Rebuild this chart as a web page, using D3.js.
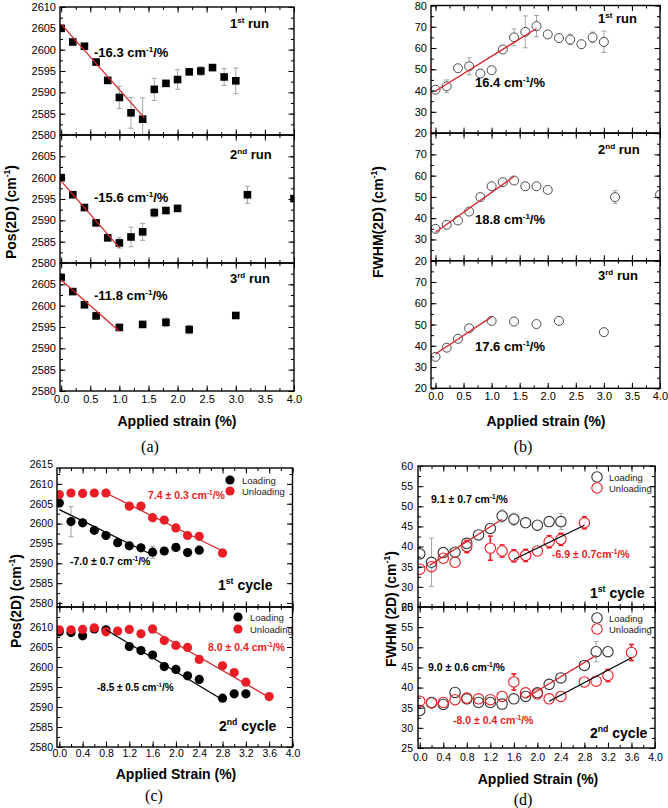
<!DOCTYPE html>
<html>
<head>
<meta charset="utf-8">
<script src="https://cdn.jsdelivr.net/npm/d3@7"></script>
<style>
  body { margin: 0; background: #fff; }
  svg { display: block; }
</style>
</head>
<body>
<svg id="fig" width="668" height="808"></svg>
<script>
// ---------- (a) Pos(2D) vs applied strain, three runs
const aStrainRun1 = [0.0,0.2,0.4,0.6,0.8,1.0,1.2,1.4,1.6,1.8,2.0,2.2,2.4,2.6,2.8,3.0];
const aPosRun1 = [2605.0,2601.8,2600.8,2597.1,2592.8,2588.8,2585.2,2583.7,2590.7,2592.1,2593.0,2594.8,2595.0,2595.8,2593.6,2592.7];
const aErrRun1 = [0.3,0.5,0.3,0.3,0.4,2.6,3.6,5.0,2.6,0.5,2.3,0.5,1.0,0.4,2.0,3.0];
const aStrainRun2 = [0.0,0.2,0.4,0.6,0.8,1.0,1.2,1.4,1.6,1.8,2.0,3.2,4.0];
const aPosRun2 = [2600.0,2596.0,2593.0,2589.4,2585.9,2584.7,2586.1,2587.3,2591.8,2592.3,2592.8,2596.0,2595.1];
const aErrRun2 = [0.3,0.3,0.3,0.3,0.3,1.2,2.3,2.0,1.0,0.5,0.4,2.0,0.5];
const aStrainRun3 = [0.0,0.2,0.4,0.6,1.0,1.4,1.8,2.2,3.0];
const aPosRun3 = [2606.6,2603.3,2600.2,2597.6,2594.9,2595.6,2596.1,2594.4,2597.7];
const aErrRun3 = [0.3,0.3,0.6,0.3,0.3,0.7,1.0,1.0,0.3];
const aFitStrain = [[0, 1.43], [0, 1.0], [0, 1.0]];
const aFitPos = [[2606.0, 2584.0], [2599.2, 2583.6], [2606.0, 2594.0]];
const aSlopes = ["-16.3", "-15.6", "-11.8"];
const aYTicksTop = [2580,2585,2590,2595,2600,2605,2610];
const aYTicks = [2580,2585,2590,2595,2600,2605];

// ---------- (b) FWHM(2D) vs applied strain, three runs
const bStrainRun1 = [0.0,0.2,0.4,0.6,0.8,1.0,1.2,1.4,1.6,1.8,2.0,2.2,2.4,2.6,2.8,3.0];
const bFwhmRun1 = [40.4,42.0,50.5,51.4,48.0,49.6,59.3,65.0,67.6,70.3,66.4,64.7,64.0,61.8,65.0,62.9];
const bErrRun1 = [0.8,3.0,1.0,4.0,1.0,1.0,1.5,4.0,7.5,5.0,2.0,1.0,2.5,1.0,2.5,5.0];
const bStrainRun2 = [0.0,0.2,0.4,0.6,0.8,1.0,1.2,1.4,1.6,1.8,2.0,3.2,4.0];
const bFwhmRun2 = [35.0,36.9,38.9,43.1,49.9,55.0,56.9,57.7,55.0,55.0,53.3,49.9,51.0];
const bErrRun2 = [0.8,0.8,0.8,0.8,0.8,0.8,0.8,0.8,0.8,0.8,0.8,3.0,0.8];
const bStrainRun3 = [0.0,0.2,0.4,0.6,1.0,1.4,1.8,2.2,3.0];
const bFwhmRun3 = [34.8,39.1,43.3,48.2,51.7,51.4,50.2,51.7,46.4];
const bErrRun3 = [0.8,0.8,0.8,0.8,0.8,0.8,0.8,1.0,0.8];
const bFitStrain = [[0, 1.8], [0, 1.4], [0, 1.0]];
const bFitFwhm = [[39.8, 69.2], [33.4, 59.6], [36.1, 53.6]];
const bSlopes = ["16.4", "18.8", "17.6"];
const bYTicksTop = [20,30,40,50,60,70,80];
const bYTicks = [20,30,40,50,60,70];

// ---------- (c) Pos(2D), loading / unloading cycles
const cStrainLoad1 = [0.0,0.2,0.4,0.6,0.8,1.0,1.2,1.4,1.6,1.8,2.0,2.2,2.4];
const cPosLoad1 = [2605.2,2600.5,2600.2,2598.3,2597.0,2595.2,2594.4,2593.9,2592.8,2593.1,2594.0,2592.7,2593.3];
const cErrLoad1 = [0.4,3.8,0.4,0.4,0.4,0.4,0.4,0.4,1.5,0.4,0.4,0.4,0.4];
const cStrainUnload1 = [0.0,0.2,0.4,0.6,0.8,1.2,1.4,1.6,1.8,2.0,2.2,2.4,2.8];
const cPosUnload1 = [2607.3,2607.7,2607.6,2607.7,2607.7,2604.4,2604.4,2601.5,2600.9,2598.9,2597.0,2596.8,2592.6];
const cErrUnload1 = [0.4,0.4,0.4,0.4,0.4,0.4,0.4,0.8,0.6,0.4,0.4,0.4,1.0];
const cStrainLoad2 = [0.0,0.2,0.4,0.6,0.8,1.2,1.4,1.6,1.8,2.0,2.2,2.4,2.8,3.0,3.2];
const cPosLoad2 = [2608.8,2608.6,2607.8,2609.5,2609.3,2605.1,2604.1,2603.0,2600.1,2599.4,2597.8,2596.9,2592.2,2593.3,2593.3];
const cErrLoad2 = [0.4,0.4,0.4,0.4,0.4,0.4,0.4,0.4,0.4,0.4,0.4,0.4,0.4,0.4,0.4];
const cStrainUnload2 = [0.0,0.2,0.4,0.6,0.8,1.0,1.2,1.4,1.6,1.8,2.0,2.2,2.4,2.8,3.0,3.2,3.6];
const cPosUnload2 = [2609.3,2609.3,2609.4,2609.8,2608.8,2609.0,2609.4,2608.3,2609.5,2606.6,2605.4,2604.9,2601.9,2600.3,2598.6,2596.2,2592.6];
const cErrUnload2 = [0.4,0.4,0.4,0.4,0.4,0.4,0.4,0.4,1.0,0.4,0.4,0.4,0.4,0.4,0.4,0.4,0.6];
const cFitLoadStrain = [[0, 1.6], [0.8, 2.8]];
const cFitLoadPos = [[2603.5, 2592.1], [2609.3, 2591.8]];
const cFitUnloadStrain = [[0.8, 2.8], [1.6, 3.6]];
const cFitUnloadPos = [[2607.7, 2593.1], [2609.2, 2592.4]];
const cYTicksTop = [2580,2585,2590,2595,2600,2605,2610,2615];
const cYTicks = [2580,2585,2590,2595,2600,2605,2610];

// ---------- (d) FWHM(2D), loading / unloading cycles
const dStrainLoad1 = [0.0,0.2,0.4,0.6,0.8,1.0,1.2,1.4,1.6,1.8,2.0,2.2,2.4];
const dFwhmLoad1 = [38.2,36.1,38.5,38.6,40.8,42.9,44.5,47.6,46.8,45.9,45.3,46.2,46.2];
const dErrLoad1 = [1.0,6.0,1.0,1.0,1.0,1.0,1.0,1.5,1.5,1.0,1.0,1.0,2.0];
const dStrainUnload1 = [0.0,0.2,0.4,0.6,0.8,1.2,1.4,1.6,1.8,2.0,2.2,2.4,2.8];
const dFwhmUnload1 = [34.4,35.0,37.1,36.1,40.0,39.6,38.9,37.7,37.8,38.9,41.2,41.8,45.9];
const dErrUnload1 = [0.5,1.0,1.0,1.0,1.5,3.0,1.5,1.5,1.5,0.8,1.5,1.5,1.5];
const dStrainLoad2 = [0.0,0.2,0.4,0.6,0.8,1.0,1.2,1.4,1.6,1.8,2.0,2.2,2.4,2.8,3.0,3.2];
const dFwhmLoad2 = [34.3,36.3,35.8,38.8,37.2,36.3,36.3,35.9,37.2,37.8,38.7,40.8,42.4,45.5,48.9,48.9];
const dErrLoad2 = [0.5,0.5,0.5,0.5,0.5,0.5,0.5,0.5,0.5,0.5,0.5,0.5,0.5,0.5,2.5,1.0];
const dStrainUnload2 = [0.0,0.2,0.4,0.6,0.8,1.0,1.2,1.4,1.6,1.8,2.0,2.2,2.4,2.8,3.0,3.2,3.6];
const dFwhmUnload2 = [36.6,36.2,36.3,37.0,37.4,37.2,37.0,37.8,41.4,38.7,38.4,37.2,37.8,41.4,41.6,43.0,48.7];
const dErrUnload2 = [0.5,0.5,0.5,1.0,0.5,0.5,0.5,0.5,2.0,0.5,0.5,0.5,0.5,0.5,1.0,1.5,2.0];
const dFitRedStrain = [[0.17, 1.4], [1.8, 3.0]];
const dFitRedFwhm = [[35.4, 46.8], [37.4, 48.0]];
const dFitBlackStrain = [[1.6, 2.8], [2.2, 3.6]];
const dFitBlackFwhm = [[36.8, 45.3], [36.6, 47.4]];
const dYTicks = [25,30,35,40,45,50,55,60];

const xTicksHalf = [0.0,0.5,1.0,1.5,2.0,2.5,3.0,3.5,4.0];
const xTicksFifth = [0.0,0.4,0.8,1.2,1.6,2.0,2.4,2.8,3.2,3.6,4.0];

const FONT = "'Liberation Sans', Arial, sans-serif";
const SERIF = "'Liberation Serif', 'Times New Roman', serif";
const RED = "#ec1c24";
const FITRED = "#d8262b";
const GREY = "#9b9b9b";

const svg = d3.select("#fig");

// text with ^{...} superscripts
function rich(sel, str, fs) {
  const parts = str.split(/(\^\{[^}]*\})/).filter(s => s.length);
  let up = false;
  parts.forEach(p => {
    const m = p.match(/^\^\{(.*)\}$/);
    if (m) {
      sel.append("tspan").attr("font-size", fs * 0.62).attr("dy", -fs * 0.42).text(m[1]);
      up = true;
    } else {
      sel.append("tspan").attr("dy", up ? fs * 0.42 : null).text(p);
      up = false;
    }
  });
}

function label(g, x, y, str, o) {
  const t = g.append("text").attr("x", x).attr("y", y)
    .attr("font-size", o.fs)
    .attr("font-weight", o.bold ? "bold" : "normal")
    .attr("fill", o.color || "#000")
    .attr("font-family", o.font || FONT)
    .attr("text-anchor", o.anchor || "start");
  if (o.rotate) t.attr("transform", `rotate(-90,${x},${y})`);
  rich(t, str, o.fs);
  return t;
}

function stepValues(dom, step) {
  const lo = Math.ceil(dom[0] / step - 1e-6), hi = Math.floor(dom[1] / step + 1e-6);
  return d3.range(lo, hi + 1).map(k => +(k * step).toFixed(6));
}

function marks(g, axis, vals, len, tr) {
  g.append("g").attr("transform", tr)
    .call(axis.tickValues(vals).tickSize(-len).tickFormat(""))
    .call(a => a.select(".domain").remove())
    .selectAll("line").attr("stroke-width", 1);
}

const markerR = { square: 3.8, dot: 4.6, ring: 4.5, ringL: 5.2 };

function drawMarker(g, kind, cx, cy, color) {
  if (kind === "square") {
    g.append("rect").attr("x", cx - 3.8).attr("y", cy - 3.8).attr("width", 7.6).attr("height", 7.6).attr("fill", "#000");
  } else if (kind === "dot") {
    g.append("circle").attr("cx", cx).attr("cy", cy).attr("r", markerR.dot).attr("fill", color);
  } else {
    g.append("circle").attr("cx", cx).attr("cy", cy).attr("r", markerR[kind]).attr("fill", "none")
      .attr("stroke", color).attr("stroke-width", kind === "ring" ? 1 : 1.1);
  }
}

function drawPanel(p) {
  const x = d3.scaleLinear().domain(p.xDomain).range([p.left, p.right]);
  const xMaj = stepValues(p.xDomain, p.xStep), xMin = stepValues(p.xDomain, p.xStep / 2);
  p.subs.forEach((s, i) => {
    const y = d3.scaleLinear().domain(s.yDomain).range([s.bottom, s.top]);
    const g = svg.append("g");
    const cid = `clip-${p.id}-${i}`;
    svg.append("clipPath").attr("id", cid).append("rect")
      .attr("x", p.left).attr("y", s.top).attr("width", p.right - p.left).attr("height", s.bottom - s.top);

    const yMaj = stepValues(s.yDomain, p.yStep), yMin = stepValues(s.yDomain, p.yStep / 2);
    marks(g, d3.axisLeft(y), yMin, 3, `translate(${p.left},0)`);
    marks(g, d3.axisLeft(y), yMaj, 5.5, `translate(${p.left},0)`);
    marks(g, d3.axisRight(y), yMin, 3, `translate(${p.right},0)`);
    marks(g, d3.axisRight(y), yMaj, 5.5, `translate(${p.right},0)`);
    marks(g, d3.axisBottom(x), xMin, 3, `translate(0,${s.bottom})`);
    marks(g, d3.axisBottom(x), xMaj, 5.5, `translate(0,${s.bottom})`);
    marks(g, d3.axisTop(x), xMin, 3, `translate(0,${s.top})`);
    marks(g, d3.axisTop(x), xMaj, 5.5, `translate(0,${s.top})`);

    g.append("g").attr("transform", `translate(${p.left},0)`)
      .call(d3.axisLeft(y).tickValues(s.yLabels).tickSize(0).tickPadding(p.yPad).tickFormat(d3.format("d")))
      .call(a => a.select(".domain").remove())
      .attr("font-size", p.tickFs).attr("font-family", FONT)
      .selectAll("text").attr("fill", "#000");

    const plot = g.append("g").attr("clip-path", `url(#${cid})`);
    s.series.forEach(ser => {
      // open markers: the bar starts at the ring edge, nothing is drawn inside the ring
      const gap = (ser.marker === "ring" || ser.marker === "ringL") ? markerR[ser.marker] : 0;
      ser.x.forEach((xv, k) => {
        const e = ser.err ? ser.err[k] : 0;
        if (e > 0) {
          const cy = y(ser.y[k]), cx = x(xv);
          const ec = ser.errColor || GREY, ew = ser.errWidth || 0.9;
          [y(ser.y[k] - e), y(ser.y[k] + e)].forEach(yy => {
            if (gap && Math.abs(yy - cy) <= gap + 0.5) return;
            const from = cy + Math.sign(yy - cy) * gap;
            plot.append("line").attr("x1", cx).attr("x2", cx).attr("y1", from).attr("y2", yy)
              .attr("stroke", ec).attr("stroke-width", ew);
            plot.append("line").attr("x1", cx - 2.5).attr("x2", cx + 2.5)
              .attr("y1", yy).attr("y2", yy).attr("stroke", ec).attr("stroke-width", ew);
          });
        }
      });
      ser.x.forEach((xv, k) => drawMarker(plot, ser.marker, x(xv), y(ser.y[k]), ser.color));
    });
    s.fits.forEach(f => {
      plot.append("path")
        .attr("d", d3.line().x(d => x(d[0])).y(d => y(d[1]))(f.x.map((v, k) => [v, f.y[k]])))
        .attr("fill", "none").attr("stroke", f.color).attr("stroke-width", 1.3);
    });

    g.append("rect").attr("x", p.left).attr("y", s.top)
      .attr("width", p.right - p.left).attr("height", s.bottom - s.top)
      .attr("fill", "none").attr("stroke", "#000").attr("stroke-width", 1.4);

    (s.legend || []).forEach(l => {
      drawMarker(g, l.marker, l.x, l.y, l.color);
      label(g, l.x + 12, l.y + 3.6, l.text, { fs: 9.5, color: "#222" });
    });
    s.notes.forEach(n => label(g, n.x, n.y, n.text, n));

    if (i === p.subs.length - 1) {
      g.append("g").attr("transform", `translate(0,${s.bottom})`)
        .call(d3.axisBottom(x).tickValues(p.xLabels).tickSize(0).tickPadding(p.xPad).tickFormat(d3.format(".1f")))
        .call(a => a.select(".domain").remove())
        .attr("font-size", p.tickFs).attr("font-family", FONT)
        .selectAll("text").attr("fill", "#000");
    }
  });
  label(svg, p.xTitle.x, p.xTitle.y, p.xTitle.text, { fs: 14, bold: true, anchor: "middle" });
  label(svg, p.yTitle.x, p.yTitle.y, p.yTitle.text, { fs: 14, bold: true, anchor: "middle", rotate: true });
  label(svg, p.letter.x, p.letter.y, p.letter.text, { fs: 16, anchor: "middle", font: SERIF });
}

const ords = ["1^{st}", "2^{nd}", "3^{rd}"];
const unit = " cm^{-1}/%";

// ---------- panel (a)
const aRuns = [[aStrainRun1, aPosRun1, aErrRun1], [aStrainRun2, aPosRun2, aErrRun2], [aStrainRun3, aPosRun3, aErrRun3]];
const aRunNoteY = [[28, 57], [159, 202], [283, 300]];
drawPanel({
  id: "a", left: 60, right: 294, xDomain: [-0.02, 4], xStep: 0.5, yStep: 5,
  tickFs: 11, yPad: 4, xPad: 4, xLabels: xTicksHalf,
  subs: aRuns.map((r, i) => ({
    top: 7 + i * 128, bottom: 135 + i * 128, yDomain: [2580, 2610],
    yLabels: i === 0 ? aYTicksTop : aYTicks,
    series: [{ x: r[0], y: r[1], err: r[2], marker: "square", color: "#000" }],
    fits: [{ x: aFitStrain[i], y: aFitPos[i], color: FITRED }],
    notes: [
      { x: 230, y: aRunNoteY[i][0], text: ords[i] + " run", fs: 13, bold: true },
      { x: 94, y: aRunNoteY[i][1], text: aSlopes[i] + unit, fs: 13, bold: true }
    ]
  })),
  xTitle: { x: 177, y: 426, text: "Applied strain (%)" },
  yTitle: { x: 16, y: 212, text: "Pos(2D) (cm^{-1})" },
  letter: { x: 150, y: 452, text: "(a)" }
});

// ---------- panel (b)
const bRuns = [[bStrainRun1, bFwhmRun1, bErrRun1], [bStrainRun2, bFwhmRun2, bErrRun2], [bStrainRun3, bFwhmRun3, bErrRun3]];
const bRunNoteY = [[23, 87], [154, 224], [280, 351]];
drawPanel({
  id: "b", left: 431, right: 660, xDomain: [-0.08, 4], xStep: 0.5, yStep: 10,
  tickFs: 11, yPad: 4, xPad: 4, xLabels: xTicksHalf,
  subs: bRuns.map((r, i) => ({
    top: 5.5 + i * 127.6, bottom: 133.1 + i * 127.6, yDomain: [20, 80],
    yLabels: i === 0 ? bYTicksTop : bYTicks,
    series: [{ x: r[0], y: r[1], err: r[2], marker: "ring", color: "#4a4a4a" }],
    fits: [{ x: bFitStrain[i], y: bFitFwhm[i], color: FITRED }],
    notes: [
      { x: 598, y: bRunNoteY[i][0], text: ords[i] + " run", fs: 13, bold: true },
      { x: 475, y: bRunNoteY[i][1], text: bSlopes[i] + unit, fs: 13, bold: true }
    ]
  })),
  xTitle: { x: 546, y: 426, text: "Applied strain (%)" },
  yTitle: { x: 383, y: 222, text: "FWHM(2D) (cm^{-1})" },
  letter: { x: 523, y: 452, text: "(b)" }
});

// ---------- panel (c)
drawPanel({
  id: "c", left: 57, right: 292.5, xDomain: [-0.04, 4], xStep: 0.4, yStep: 5,
  tickFs: 10.5, yPad: 4, xPad: 3, xLabels: xTicksFifth,
  subs: [
    {
      top: 468, bottom: 607, yDomain: [2579, 2614], yLabels: cYTicksTop,
      series: [
        { x: cStrainLoad1, y: cPosLoad1, err: cErrLoad1, marker: "dot", color: "#000" },
        { x: cStrainUnload1, y: cPosUnload1, err: cErrUnload1, marker: "dot", color: RED }
      ],
      fits: [
        { x: cFitLoadStrain[0], y: cFitLoadPos[0], color: "#000" },
        { x: cFitUnloadStrain[0], y: cFitUnloadPos[0], color: FITRED }
      ],
      legend: [
        { x: 230, y: 480, marker: "dot", color: "#000", text: "Loading" },
        { x: 230, y: 491, marker: "dot", color: RED, text: "Unloading" }
      ],
      notes: [
        { x: 148, y: 499, text: "7.4 \u00b1 0.3" + unit, fs: 10.5, bold: true, color: RED },
        { x: 70, y: 565, text: "-7.0 \u00b1 0.7" + unit, fs: 10.5, bold: true },
        { x: 218, y: 590, text: "1^{st} cycle", fs: 14, bold: true }
      ]
    },
    {
      top: 607, bottom: 747, yDomain: [2580, 2615], yLabels: cYTicks,
      series: [
        { x: cStrainLoad2, y: cPosLoad2, err: cErrLoad2, marker: "dot", color: "#000" },
        { x: cStrainUnload2, y: cPosUnload2, err: cErrUnload2, marker: "dot", color: RED }
      ],
      fits: [
        { x: cFitLoadStrain[1], y: cFitLoadPos[1], color: "#000" },
        { x: cFitUnloadStrain[1], y: cFitUnloadPos[1], color: FITRED }
      ],
      legend: [
        { x: 238, y: 617, marker: "dot", color: "#000", text: "Loading" },
        { x: 238, y: 629, marker: "dot", color: RED, text: "Unloading" }
      ],
      notes: [
        { x: 208, y: 651, text: "8.0 \u00b1 0.4" + unit, fs: 10.5, bold: true, color: RED },
        { x: 97, y: 691, text: "-8.5 \u00b1 0.5" + unit, fs: 10, bold: true },
        { x: 219, y: 731, text: "2^{nd} cycle", fs: 14, bold: true }
      ]
    }
  ],
  xTitle: { x: 176, y: 779, text: "Applied Strain (%)" },
  yTitle: { x: 21, y: 601, text: "Pos(2D) (cm^{-1})" },
  letter: { x: 154, y: 801, text: "(c)" }
});

// ---------- panel (d)
drawPanel({
  id: "d", left: 418, right: 655, xDomain: [-0.03, 4], xStep: 0.4, yStep: 5,
  tickFs: 10.5, yPad: 5, xPad: 6, xLabels: xTicksFifth,
  subs: [
    {
      top: 466, bottom: 607, yDomain: [25, 60], yLabels: dYTicks,
      series: [
        { x: dStrainLoad1, y: dFwhmLoad1, err: dErrLoad1, marker: "ringL", color: "#333" },
        { x: dStrainUnload1, y: dFwhmUnload1, err: dErrUnload1, marker: "ringL", color: RED, errColor: RED, errWidth: 1.6 }
      ],
      fits: [
        { x: dFitRedStrain[0], y: dFitRedFwhm[0], color: FITRED },
        { x: dFitBlackStrain[0], y: dFitBlackFwhm[0], color: "#000" }
      ],
      legend: [
        { x: 597, y: 477, marker: "ringL", color: "#333", text: "Loading" },
        { x: 597, y: 488, marker: "ringL", color: RED, text: "Unloading" }
      ],
      notes: [
        { x: 431, y: 503, text: "9.1 \u00b1 0.7" + unit, fs: 10.5, bold: true },
        { x: 552, y: 558, text: "-6.9 \u00b1 0.7cm^{-1}/%", fs: 10.5, bold: true, color: RED },
        { x: 590, y: 598, text: "1^{st} cycle", fs: 14, bold: true }
      ]
    },
    {
      top: 607, bottom: 748, yDomain: [25, 60], yLabels: dYTicks,
      series: [
        { x: dStrainLoad2, y: dFwhmLoad2, err: dErrLoad2, marker: "ringL", color: "#333" },
        { x: dStrainUnload2, y: dFwhmUnload2, err: dErrUnload2, marker: "ringL", color: RED, errColor: RED, errWidth: 1.6 }
      ],
      fits: [
        { x: dFitRedStrain[1], y: dFitRedFwhm[1], color: FITRED },
        { x: dFitBlackStrain[1], y: dFitBlackFwhm[1], color: "#000" }
      ],
      legend: [
        { x: 597, y: 618, marker: "ringL", color: "#333", text: "Loading" },
        { x: 597, y: 629, marker: "ringL", color: RED, text: "Unloading" }
      ],
      notes: [
        { x: 428, y: 671, text: "9.0 \u00b1 0.6" + unit, fs: 10.5, bold: true },
        { x: 453, y: 724, text: "-8.0 \u00b1 0.4" + unit, fs: 10.5, bold: true, color: RED },
        { x: 590, y: 738, text: "2^{nd} cycle", fs: 14, bold: true }
      ]
    }
  ],
  xTitle: { x: 538, y: 784, text: "Applied Strain (%)" },
  yTitle: { x: 396, y: 609, text: "FWHM (2D) (cm^{-1})" },
  letter: { x: 523, y: 805, text: "(d)" }
});
</script>
</body>
</html>
